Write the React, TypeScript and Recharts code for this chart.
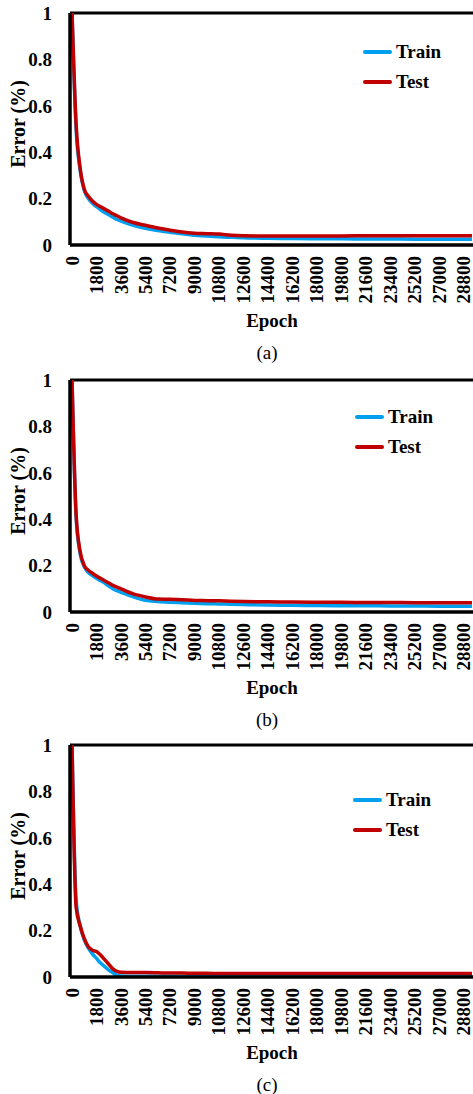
import { LineChart, Line, XAxis, YAxis, ReferenceLine, Legend } from 'recharts';

const epochs = [
  0, 300, 600, 900, 1200, 1500, 1800, 2100, 2400, 2700, 3000, 3300, 3600, 4500, 5400, 6300, 7200,
  8100, 9000, 9900, 10800, 11700, 12600, 14400, 16200, 18000, 19800, 21600, 23400, 25200, 27000,
  28800, 29400,
];

// (a)
const trainA = [
  1.0, 0.5, 0.32, 0.235, 0.2, 0.18, 0.165, 0.152, 0.14, 0.13, 0.12, 0.11, 0.103, 0.085, 0.072,
  0.062, 0.055, 0.048, 0.042, 0.039, 0.036, 0.033, 0.031, 0.029, 0.028, 0.027, 0.027, 0.026, 0.026,
  0.025, 0.025, 0.025, 0.025,
];
const testA = [
  1.0, 0.52, 0.33, 0.24, 0.21, 0.19, 0.175, 0.165, 0.155, 0.145, 0.135, 0.126, 0.117, 0.097, 0.085,
  0.073, 0.064, 0.056, 0.051, 0.049, 0.047, 0.042, 0.04, 0.039, 0.039, 0.039, 0.039, 0.04, 0.04,
  0.04, 0.04, 0.04, 0.04,
];

// (b)
const trainB = [
  1.0, 0.41, 0.25, 0.195, 0.17, 0.157, 0.145, 0.135, 0.125, 0.112, 0.1, 0.092, 0.085, 0.065, 0.05,
  0.045, 0.042, 0.04, 0.038, 0.036, 0.035, 0.033, 0.032, 0.03, 0.029, 0.028, 0.027, 0.027, 0.026,
  0.026, 0.025, 0.025, 0.025,
];
const testB = [
  1.0, 0.42, 0.26, 0.2, 0.18, 0.167, 0.155, 0.145, 0.135, 0.125, 0.115, 0.107, 0.1, 0.078, 0.065,
  0.056, 0.055, 0.053, 0.05, 0.049, 0.048, 0.046, 0.045, 0.044, 0.043, 0.042, 0.042, 0.041, 0.041,
  0.04, 0.04, 0.04, 0.04,
];

// (c)
const trainC = [
  1.0, 0.33, 0.22, 0.16, 0.125, 0.1, 0.08, 0.06, 0.045, 0.03, 0.018, 0.008, 0.004, 0.003, 0.003,
  0.003, 0.003, 0.003, 0.003, 0.003, 0.003, 0.003, 0.003, 0.003, 0.003, 0.003, 0.003, 0.003, 0.003,
  0.003, 0.003, 0.003, 0.003,
];
const testC = [
  1.0, 0.3, 0.22, 0.165, 0.13, 0.115, 0.11, 0.095, 0.075, 0.055, 0.035, 0.024, 0.02, 0.019, 0.019,
  0.018, 0.017, 0.017, 0.016, 0.016, 0.015, 0.015, 0.015, 0.015, 0.015, 0.015, 0.015, 0.015, 0.015,
  0.015, 0.015, 0.015, 0.015,
];

const epochTicks = [
  0, 1800, 3600, 5400, 7200, 9000, 10800, 12600, 14400, 16200, 18000, 19800, 21600, 23400, 25200,
  27000, 28800,
];
const errorTicks = [0, 0.2, 0.4, 0.6, 0.8, 1];

const FONT = '"Liberation Serif", "Times New Roman", serif';
const TRAIN_COLOR = '#00A0F0';
const TEST_COLOR = '#C00000';

const panels = [
  { caption: '(a)', train: trainA, test: testA, top: 0, legendLeft: 363, legendTop: 37 },
  { caption: '(b)', train: trainB, test: testB, top: 367, legendLeft: 355, legendTop: 35 },
  { caption: '(c)', train: trainC, test: testC, top: 732, legendLeft: 353, legendTop: 53 },
];

function buildRows(train: number[], test: number[]) {
  return epochs.map((epoch, i) => ({ epoch, train: train[i], test: test[i] }));
}

const EpochTick = ({ x, y, payload }: any) => {
  const ty = y + 11;
  return (
    <text
      x={x}
      y={ty}
      transform={`rotate(-90 ${x} ${ty})`}
      textAnchor="end"
      dominantBaseline="central"
      fontFamily={FONT}
      fontWeight="bold"
      fontSize={19}
      fill="#000"
    >
      {payload.value}
    </text>
  );
};

const ErrorLabel = () => (
  <text
    x={18}
    y={124}
    transform="rotate(-90 18 124)"
    textAnchor="middle"
    dominantBaseline="central"
    fontFamily={FONT}
    fontWeight="bold"
    fontSize={20}
    fill="#000"
  >
    Error (%)
  </text>
);

const EpochLabel = ({ caption }: { caption: string }) => (
  <g>
    <text
      x={272}
      y={320}
      textAnchor="middle"
      dominantBaseline="central"
      fontFamily={FONT}
      fontWeight="bold"
      fontSize={19}
      fill="#000"
    >
      Epoch
    </text>
    <text
      x={267}
      y={352}
      textAnchor="middle"
      dominantBaseline="central"
      fontFamily={FONT}
      fontSize={19}
      fill="#000"
    >
      {caption}
    </text>
  </g>
);

const SeriesKey = () => (
  <div style={{ fontFamily: FONT, fontWeight: 'bold', fontSize: 19, color: '#000' }}>
    {[
      { name: 'Train', color: TRAIN_COLOR },
      { name: 'Test', color: TEST_COLOR },
    ].map((s) => (
      <div key={s.name} style={{ display: 'flex', alignItems: 'center', height: 30 }}>
        <span style={{ width: 29, height: 4, background: s.color, marginRight: 4, borderRadius: 2 }} />
        {s.name}
      </div>
    ))}
  </div>
);

function ErrorPanel({ panel }: { panel: (typeof panels)[number] }) {
  const rows = buildRows(panel.train, panel.test);
  return (
    <div style={{ position: 'absolute', left: 0, top: panel.top }}>
      <LineChart width={480} height={367} data={rows} margin={{ top: 13, right: 6, left: 0, bottom: 58 }}>
        <XAxis
          dataKey="epoch"
          type="number"
          domain={[-150, 29550]}
          ticks={epochTicks}
          interval={0}
          allowDataOverflow
          axisLine={{ stroke: '#000', strokeWidth: 3.5 }}
          tickLine={false}
          tickSize={0}
          tickMargin={0}
          height={64}
          tick={<EpochTick />}
          label={<EpochLabel caption={panel.caption} />}
        />
        <YAxis
          type="number"
          domain={[0, 1]}
          ticks={errorTicks}
          width={70}
          axisLine={{ stroke: '#000', strokeWidth: 3.5 }}
          tickLine={false}
          tickSize={0}
          tickMargin={18}
          tick={{ fill: '#000', fontSize: 19, fontWeight: 'bold', fontFamily: FONT }}
          label={<ErrorLabel />}
        />
        <ReferenceLine y={1} stroke="#000" strokeWidth={3} />
        <Legend
          layout="vertical"
          align="center"
          verticalAlign="middle"
          content={<SeriesKey />}
          wrapperStyle={{ left: panel.legendLeft, top: panel.legendTop, width: 'auto', height: 'auto' }}
        />
        <Line
          type="monotone"
          dataKey="train"
          name="Train"
          stroke={TRAIN_COLOR}
          strokeWidth={3.5}
          dot={false}
          isAnimationActive={false}
        />
        <Line
          type="monotone"
          dataKey="test"
          name="Test"
          stroke={TEST_COLOR}
          strokeWidth={3.5}
          dot={false}
          isAnimationActive={false}
        />
      </LineChart>
    </div>
  );
}

export default function App() {
  return (
    <div
      style={{
        position: 'absolute',
        left: 0,
        top: 0,
        width: 473,
        height: 1094,
        overflow: 'hidden',
        background: '#fff',
      }}
    >
      {panels.map((p) => (
        <ErrorPanel key={p.caption} panel={p} />
      ))}
    </div>
  );
}
